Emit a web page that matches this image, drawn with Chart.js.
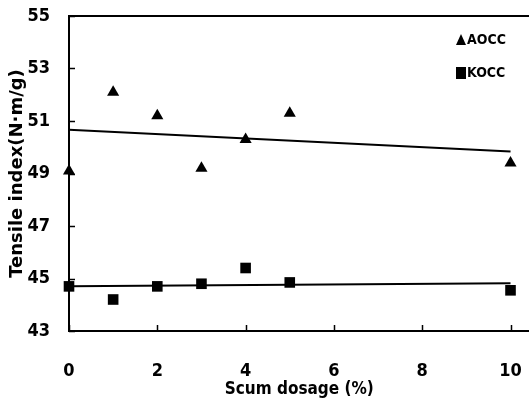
<!DOCTYPE html>
<html>
<head>
<meta charset="utf-8">
<script src="https://cdn.jsdelivr.net/npm/chart.js@4.4.0/dist/chart.umd.min.js"></script>
<style>
  html, body { margin: 0; padding: 0; background: #fff; overflow: hidden; }
  /* a bit wider than the window so the plot runs to the right edge */
  #wrap { width: 537px; height: 408px; }
</style>
</head>
<body>
<div id="wrap"><canvas id="chart"></canvas></div>
<script>
// Scum dosage (%) and tensile index readings
const dosage = [0, 1, 2, 3, 4, 5, 10];
const aoccValues = [49.1, 52.1, 51.2, 49.2, 50.3, 51.3, 49.4];
const koccValues = [44.7, 44.2, 44.7, 44.8, 45.4, 44.85, 44.55];
const xTicks = [0, 2, 4, 6, 8, 10];
const yTicks = [43, 45, 47, 49, 51, 53, 55];

const FONT = "'DejaVu Sans Condensed', 'Liberation Sans', sans-serif";

// least squares line across the dosage range
function trend(xs, ys) {
    const n = xs.length;
    const mx = xs.reduce((a, b) => a + b, 0) / n;
    const my = ys.reduce((a, b) => a + b, 0) / n;
    let sxy = 0, sxx = 0;
    xs.forEach((x, i) => { sxy += (x - mx) * (ys[i] - my); sxx += (x - mx) * (x - mx); });
    const b = sxy / sxx, a = my - b * mx;
    const x0 = xs[0], x1 = xs[n - 1];
    return [{ x: x0, y: a + b * x0 }, { x: x1, y: a + b * x1 }];
}

const pts = (xs, ys) => xs.map((x, i) => ({ x: x, y: ys[i] }));

// inward tick marks, top frame line and the in-plot legend
const decor = {
    id: 'decor',
    afterDraw(chart) {
        const { ctx, chartArea: a, scales: { x, y } } = chart;
        ctx.save();
        ctx.strokeStyle = '#000';
        ctx.lineWidth = 1.5;
        ctx.beginPath();
        xTicks.forEach(v => {
            const px = Math.round(x.getPixelForValue(v)) + 0.5;
            ctx.moveTo(px, a.bottom);
            ctx.lineTo(px, a.bottom - 6);
        });
        yTicks.forEach(v => {
            const py = Math.round(y.getPixelForValue(v)) + 0.5;
            ctx.moveTo(a.left, py);
            ctx.lineTo(a.left + 6, py);
        });
        ctx.stroke();
        ctx.lineWidth = 2;
        ctx.beginPath();
        ctx.moveTo(a.left, a.top);
        ctx.lineTo(a.right + 10, a.top);
        ctx.stroke();

        // legend
        ctx.fillStyle = '#000';
        ctx.font = 'bold 14px ' + FONT;
        ctx.textBaseline = 'middle';
        ctx.textAlign = 'left';
        const lx = 461, ly1 = 40, ly2 = 73;
        ctx.beginPath();
        ctx.moveTo(lx, ly1 - 6);
        ctx.lineTo(lx + 5, ly1 + 5);
        ctx.lineTo(lx - 5, ly1 + 5);
        ctx.closePath();
        ctx.fill();
        ctx.fillText('AOCC', lx + 6, ly1);
        ctx.fillRect(lx - 5, ly2 - 6, 10, 12);
        ctx.fillText('KOCC', lx + 6, ly2);
        ctx.restore();
    }
};

new Chart(document.getElementById('chart'), {
    type: 'scatter',
    data: {
        datasets: [
            {
                label: 'AOCC',
                data: pts(dosage, aoccValues),
                pointStyle: 'triangle',
                pointRadius: 7,
                backgroundColor: '#000',
                borderColor: '#000',
                borderWidth: 0,
                clip: false
            },
            {
                label: 'KOCC',
                data: pts(dosage, koccValues),
                pointStyle: 'rect',
                pointRadius: 7.5,
                backgroundColor: '#000',
                borderColor: '#000',
                borderWidth: 0,
                clip: false
            },
            {
                label: 'AOCC trend',
                type: 'line',
                data: trend(dosage, aoccValues),
                borderColor: '#000',
                borderWidth: 2,
                pointRadius: 0,
                fill: false
            },
            {
                label: 'KOCC trend',
                type: 'line',
                data: trend(dosage, koccValues),
                borderColor: '#000',
                borderWidth: 2,
                pointRadius: 0,
                fill: false
            }
        ]
    },
    options: {
        responsive: true,
        maintainAspectRatio: false,
        animation: false,
        layout: { padding: { top: 16, right: 0, left: 0, bottom: 0 } },
        plugins: {
            legend: { display: false },
            tooltip: { enabled: false }
        },
        scales: {
            x: {
                type: 'linear',
                min: 0,
                max: 10.43,
                afterBuildTicks: s => { s.ticks = xTicks.map(v => ({ value: v })); },
                afterFit: s => { s.height = 77; s.paddingLeft = 0; s.paddingRight = 0; },
                border: { display: true, color: '#000', width: 2 },
                grid: { display: false, drawTicks: false },
                ticks: {
                    padding: 30,
                    color: '#000',
                    font: { family: FONT, size: 18, weight: 'bold' }
                },
                title: {
                    display: true,
                    text: 'Scum dosage (%)',
                    color: '#000',
                    padding: { top: 0, bottom: 8 },
                    font: { family: FONT, size: 17, weight: 'bold' }
                }
            },
            y: {
                min: 43,
                max: 55,
                afterBuildTicks: s => { s.ticks = yTicks.map(v => ({ value: v })); },
                afterFit: s => { s.width = 69; s.paddingTop = 0; s.paddingBottom = 0; },
                border: { display: true, color: '#000', width: 2 },
                grid: { display: false, drawTicks: false },
                ticks: {
                    padding: 19,
                    color: '#000',
                    font: { family: FONT, size: 18, weight: 'bold' }
                },
                title: {
                    display: true,
                    text: 'Tensile index(N·m/g)',
                    color: '#000',
                    padding: { top: 7, bottom: 0 },
                    font: { family: "'DejaVu Sans', sans-serif", size: 18, weight: 'bold' }
                }
            }
        }
    },
    plugins: [decor]
});
</script>
</body>
</html>
